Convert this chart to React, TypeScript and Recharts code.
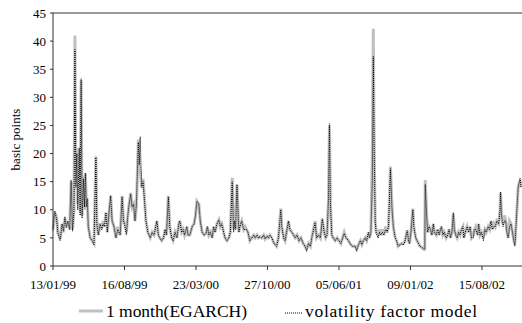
import React from 'react';
import { LineChart, Line, XAxis, YAxis, Legend, ReferenceLine, Label } from 'recharts';

// observation number (trading days since 13/01/99)
const obsIndex = [
  0, 2, 4, 8, 10, 15, 19, 22, 25, 28, 31, 35, 38, 41, 44, 46, 48, 50, 52, 55,
  57, 59, 61, 64, 66, 68, 70, 72, 74, 78, 82, 86, 90, 92, 95, 99, 102, 105, 108, 111,
  114, 117, 121, 124, 128, 132, 136, 141, 145, 148, 151, 154, 157, 159, 163, 166, 169, 172, 175, 179,
  181, 183, 186, 189, 192, 195, 199, 204, 208, 212, 218, 221, 224, 228, 232, 235, 238, 242, 245, 249,
  252, 256, 260, 264, 266, 270, 273, 276, 281, 283, 287, 292, 296, 299, 302, 306, 309, 313, 317, 321,
  324, 327, 330, 334, 337, 340, 344, 348, 351, 354, 358, 361, 365, 369, 372, 376, 379, 381, 383, 386,
  390, 392, 396, 400, 403, 406, 409, 413, 417, 421, 424, 428, 431, 434, 438, 442, 445, 449, 452, 455,
  459, 464, 469, 473, 478, 480, 484, 487, 490, 494, 497, 501, 505, 508, 512, 516, 520, 525, 529, 532,
  536, 540, 544, 550, 553, 557, 561, 565, 569, 572, 575, 578, 580, 582, 585, 588, 592, 596, 600, 604,
  611, 615, 620, 623, 628, 634, 637, 641, 645, 648, 651, 655, 658, 662, 664, 667, 670, 672, 674, 676,
  678, 682, 685, 688, 691, 694, 698, 701, 704, 708, 711, 714, 718, 721, 724, 728, 732, 735, 738, 743,
  746, 748, 751, 755, 757, 761, 764, 767, 770, 774, 778, 780, 781, 784, 786, 789, 792, 795, 798, 800,
  804, 807, 810, 813, 815, 818, 821, 825, 828, 831, 834, 837, 840, 842, 845, 848, 851, 854, 857, 860,
  862, 865, 869, 872, 875, 878, 882, 884, 887, 891, 893, 896, 899, 903, 906, 909, 913, 916, 919, 922,
  925, 928, 931, 935, 938, 939, 941, 944, 947, 950, 952, 955, 958, 961, 964, 967, 969, 972, 976, 980,
  982,
];

const egarch = [
  6.5, 8, 9.5, 8.5, 6, 4.8, 7.5, 6, 8.5, 7, 8, 6.5, 15, 6.5, 10, 41, 15, 21, 11, 20,
  9.5, 33, 9, 16, 10, 16.5, 11, 12, 7, 5, 4.5, 4, 19.5, 8, 5.5, 7.5, 6.5, 8, 7, 9.5,
  6, 9, 12.5, 8, 7, 5, 7, 5.5, 12.5, 8, 7.5, 6, 9, 10.5, 13, 10.5, 11, 8, 10.5, 22.5,
  18, 17, 14, 15.5, 12, 8, 6, 5, 6, 5.5, 8, 5.5, 5, 4.5, 5, 6.5, 5.5, 12.5, 7, 5,
  4.5, 6, 5, 7.5, 8, 6, 6.5, 5.5, 7, 5.5, 5.5, 7, 7.5, 9, 11.5, 11, 8, 6, 5.5, 5.8,
  7, 5.5, 6, 5, 7, 6, 7.5, 8.2, 7, 7.5, 6, 5, 4.5, 5, 6, 15.7, 6.5, 8, 6.5, 14.5,
  6, 7, 8, 6.5, 7, 6.5, 6, 4.5, 5, 5.5, 5, 5.5, 5, 5.2, 5, 5.5, 4.8, 5.3, 5, 5.5,
  5, 4, 3.5, 5, 10.2, 7, 5, 4.5, 6, 8, 6.5, 6, 5.5, 5, 5.5, 4.5, 5, 4, 3.5, 3,
  4, 3.5, 5.5, 8, 5, 5.5, 5, 8.3, 6, 5, 5.5, 12, 25, 11, 5.5, 5, 4.5, 5, 4.5, 4,
  6, 5, 4.5, 4, 3.5, 3.5, 3, 3.8, 4.5, 3.8, 4.5, 5, 4.5, 6, 5, 6, 20, 42.2, 20, 8,
  6, 5.5, 6.5, 5.5, 6.5, 5.5, 7, 6, 7, 17.7, 11, 7, 5, 4.5, 3.5, 3.8, 4, 4, 4.3, 6.3,
  4.5, 4, 6, 10.2, 7, 5, 4.5, 4, 3.5, 3.3, 3, 3, 15.3, 9, 6, 7, 6.5, 5.5, 7.5, 6,
  5.5, 6.5, 5.5, 6.5, 7, 5.5, 6, 5, 5.5, 6.5, 5, 6, 9.3, 6.5, 5.5, 5, 6, 5.5, 6.5, 7,
  5, 6, 7, 6, 7, 5, 5.5, 6.5, 7, 5.5, 7.5, 5.5, 6, 5, 6.5, 6, 7, 6.5, 8, 6.5,
  7.5, 7, 8, 7.5, 10, 13, 9, 7.5, 9, 8, 6.5, 5, 8, 7.5, 6, 4.5, 3.8, 8, 14, 15.3,
  14,
];

const factor = [
  6.3, 8.5, 9.8, 8, 6, 4.5, 7.5, 6.2, 8.8, 6.8, 8, 6.5, 15.3, 6.2, 10, 38.5, 14, 20, 10, 21,
  9, 33.3, 8.5, 15.5, 10.5, 16.5, 10.5, 12, 7, 5, 4.5, 3.8, 19.3, 7.5, 5.5, 7.5, 6.5, 7.5, 7, 9.5,
  6, 9, 12.5, 8, 7, 5, 6.5, 5.5, 12.3, 8, 7, 5.5, 9, 10.5, 12.8, 10.5, 11, 8, 11, 22,
  18, 23, 14, 15, 11.5, 8, 6, 5, 6, 5.5, 8, 5.5, 5, 4.5, 5, 6.5, 5.5, 12.3, 7, 5,
  4.5, 6, 5, 7.5, 8, 6, 6.5, 5.5, 7, 5.5, 5.5, 7, 7.5, 9, 11.5, 11, 8, 6, 5.5, 5.8,
  7, 5.5, 6, 5, 7, 6, 7.5, 8.2, 7, 7.5, 6, 5, 4.5, 5, 6, 15, 6, 8, 6.5, 14.5,
  6, 7, 8, 6.5, 6.5, 6.5, 6, 4.5, 5, 5.5, 5, 5.5, 5, 5.2, 5, 5.5, 4.8, 5.3, 5, 5.5,
  5, 4, 3.5, 5, 10, 7, 5, 4.5, 6, 8, 6.5, 6, 5.5, 5, 5.5, 4.5, 5, 4, 3.5, 2.7,
  4, 3.5, 5.5, 7.7, 5, 5.5, 5, 8.4, 6, 5, 5.5, 12, 25.3, 11, 5.5, 5, 4.5, 5, 4.5, 4,
  5.8, 5, 4.5, 4, 3.5, 3.5, 2.7, 3.8, 4.5, 3.8, 4.5, 5, 4.5, 6, 5, 6, 15, 37.3, 20, 8,
  6, 5, 6, 5.5, 6, 5.5, 6.5, 6, 7, 17.3, 10.5, 7, 5, 4.5, 3.5, 3.8, 4, 3.7, 4.3, 6.3,
  4.5, 4, 6, 10, 7, 5, 4.5, 4, 3.5, 3.3, 3, 3, 14.5, 9, 6, 7, 6.5, 5.5, 7.5, 6,
  5.5, 6.5, 5.5, 6.5, 7, 5.5, 6, 5, 5.5, 6.5, 5, 6, 9.5, 6.5, 5.5, 5, 6, 5.5, 6.5, 7,
  5, 6, 7, 6, 7, 5, 5, 6.5, 6.5, 5.5, 7.5, 5.5, 6, 4.5, 6.5, 6, 7, 6.5, 8, 6.5,
  7, 7, 8, 7.5, 10, 13.2, 9, 7, 8, 8, 6, 5, 7, 7.5, 6, 4.5, 3.5, 8, 14, 15.6,
  14,
];

const tickIndex = [0, 150, 300, 450, 600, 750, 900];
const tickLabels = ['13/01/99', '16/08/99', '23/03/00', '27/10/00', '05/06/01', '09/01/02', '15/08/02'];
const yTicks = [0, 5, 10, 15, 20, 25, 30, 35, 40, 45];

const data = obsIndex.map((t, i) => ({ t, egarch: egarch[i], factor: factor[i] }));

const FONT = 'Liberation Serif, Times New Roman, serif';
const GRAY = '#c0c0c0';

const LegendBox = () => (
  <svg width={522} height={27} style={{ display: 'block' }}>
    <line x1={79} x2={103} y1={15} y2={15} stroke={GRAY} strokeWidth={3} />
    <text x={106} y={21} fontFamily={FONT} fontSize={17.5} fill="#000" textLength={141} lengthAdjust="spacing">
      1 month(EGARCH)
    </text>
    <line x1={285} x2={303} y1={17} y2={17} stroke="#000" strokeWidth={1} strokeDasharray="1 1" />
    <text x={305} y={21} fontFamily={FONT} fontSize={17.5} fill="#000" textLength={172} lengthAdjust="spacing">
      volatility factor model
    </text>
  </svg>
);

export default function App() {
  return (
    <div style={{ position: 'absolute', left: 0, top: 0, width: 522, height: 323, background: '#fff' }}>
      <LineChart width={522} height={323} data={data} margin={{ top: 13, right: 0, left: 0, bottom: 0 }}>
        <XAxis
          type="number"
          dataKey="t"
          domain={[0, 984]}
          ticks={tickIndex}
          tickFormatter={(v: number) => tickLabels[tickIndex.indexOf(v)] ?? ''}
          height={30}
          tickSize={4}
          tickMargin={10}
          interval={0}
          stroke="#333"
          tick={{ fill: '#000', fontSize: 13, fontFamily: FONT }}
        />
        <YAxis
          domain={[0, 45]}
          ticks={yTicks}
          width={53}
          tickSize={3}
          tickMargin={4}
          interval={0}
          stroke="#333"
          tick={{ fill: '#000', fontSize: 13, fontFamily: FONT }}
        >
          <Label
            content={() => (
              <text transform="translate(20,139.5) rotate(-90)" textAnchor="middle" fontFamily={FONT} fontSize={13} fill="#000">
                basic points
              </text>
            )}
          />
        </YAxis>
        <ReferenceLine y={45} stroke="#333" />
        <Line type="linear" dataKey="egarch" stroke={GRAY} strokeWidth={3} dot={false} isAnimationActive={false} />
        <Line type="linear" dataKey="factor" stroke="#000" strokeWidth={1} strokeDasharray="1 1" dot={false} isAnimationActive={false} />
        <Legend verticalAlign="bottom" content={() => <LegendBox />} wrapperStyle={{ height: 27 }} />
      </LineChart>
    </div>
  );
}
